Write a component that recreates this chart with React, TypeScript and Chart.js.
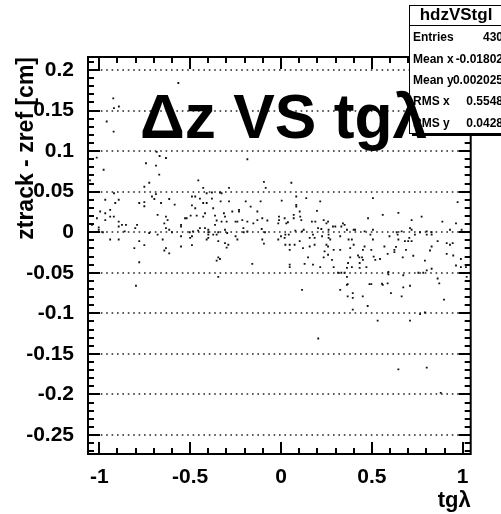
import React, { useEffect, useRef } from 'react';
import { Chart, registerables } from 'chart.js';

Chart.register(...registerables);

// ---- data (tgλ, Δz) ----
const SCATTER_LEFT: [number, number][] = [
  [-0.921, 0.124], [-1.014, 0.092], [-0.668, 0.094], [-0.633, 0.0915], [-0.743, 0.085],
  [-0.688, 0.082], [-0.976, 0.077], [-0.67, 0.071], [-0.725, 0.061], [-0.752, 0.056],
  [-1.051, 0.064], [-0.919, 0.048], [-0.688, 0.047], [-0.71, 0.044], [-0.697, 0.041],
  [-0.967, 0.04], [-0.893, 0.04], [-0.912, 0.036], [-0.78, 0.036], [-0.752, 0.037],
  [-0.752, 0.032], [-0.66, 0.036], [-0.615, 0.041], [-0.585, 0.034], [-0.94, 0.0275],
  [-0.995, 0.0255], [-0.967, 0.0234], [-0.679, 0.0214], [-0.633, 0.0193], [-0.94, 0.0193],
  [-0.92, 0.0193], [-1.013, 0.0172], [-0.967, 0.015], [-0.624, 0.015], [-0.893, 0.013],
  [-0.642, 0.011], [-1.04, 0.009], [-0.875, 0.009], [-0.853, 0.009], [-0.893, 0.007],
  [-0.792, 0.009], [-0.55, 0.009], [-0.55, 0.007], [-1.003, 0.006], [-0.802, 0.005],
  [-0.633, 0.005], [-0.615, 0.003], [-1.003, 0.003], [-0.725, -0.001], [-0.679, -0.003],
  [-0.55, -0.005], [-0.94, -0.009], [-0.893, -0.009], [-0.651, -0.009], [-0.78, -0.011],
  [-0.752, -0.016], [-0.55, -0.0176], [-0.807, -0.0197], [-0.633, -0.0197], [-0.642, -0.0225],
  [-0.615, -0.026], [-0.78, -0.037], [-0.798, -0.066], [-0.565, 0.184], [-0.923, 0.165],
  [-0.919, 0.153], [-0.892, 0.155], [-0.959, 0.1365], [-0.98, 0.0], [-0.86, 0.001],
  [-0.6, 0.0], [-0.684, 0.099],
];

const SCATTER_MID_LEFT: [number, number][] = [
  [-0.185, 0.09], [-0.455, 0.064], [-0.094, 0.062], [-0.084, 0.0546], [-0.428, 0.0546],
  [-0.286, 0.0546], [-0.409, 0.048], [-0.38, 0.049], [-0.336, 0.049], [-0.327, 0.048],
  [-0.49, 0.044], [-0.472, 0.044], [-0.446, 0.0415], [-0.38, 0.0415], [-0.428, 0.036],
  [-0.409, 0.036], [-0.332, 0.038], [-0.286, 0.038], [-0.194, 0.038], [-0.112, 0.038],
  [-0.49, 0.033], [-0.167, 0.0316], [-0.472, 0.0295], [-0.373, 0.0295], [-0.314, 0.0234],
  [-0.268, 0.0255], [-0.231, 0.0255], [-0.231, 0.0276], [-0.13, 0.0255], [-0.418, 0.0234],
  [-0.428, 0.0193], [-0.528, 0.0172], [-0.519, 0.0172], [-0.497, 0.0205], [-0.464, 0.0205],
  [-0.363, 0.0205], [-0.308, 0.0193], [-0.011, 0.0193], [-0.011, 0.015], [-0.103, 0.0172],
  [-0.075, 0.0144], [-0.13, 0.015], [-0.354, 0.0144], [-0.327, 0.013], [-0.299, 0.013],
  [-0.25, 0.013], [-0.24, 0.013], [-0.185, 0.013], [-0.213, 0.015], [-0.152, 0.011],
  [-0.015, 0.011], [-0.363, 0.009], [-0.446, 0.005], [-0.418, 0.005], [-0.4, 0.003],
  [-0.308, 0.003], [-0.207, 0.005], [-0.106, 0.004], [-0.502, 0.0], [-0.484, 0.001],
  [-0.456, 0.002], [-0.4, 0.0], [-0.345, 0.0], [-0.296, -0.001], [-0.205, 0.0],
  [-0.185, 0.001], [-0.088, 0.0], [-0.4, -0.003], [-0.373, -0.003], [-0.354, -0.003],
  [-0.49, -0.005], [-0.5, -0.007], [-0.4, -0.007], [-0.409, -0.009], [-0.25, -0.005],
  [-0.24, -0.009], [-0.103, -0.009], [-0.094, -0.014], [0.0, -0.005], [-0.015, -0.009],
  [-0.345, -0.011], [-0.308, -0.0135], [-0.29, -0.0155], [-0.299, -0.019], [-0.49, -0.016],
  [-0.345, -0.031], [-0.336, -0.033], [-0.354, -0.035], [-0.158, -0.039], [-0.345, -0.055],
];

const SCATTER_MID_RIGHT: [number, number][] = [
  [0.057, 0.061], [0.084, 0.044], [0.139, 0.042], [0.216, 0.038], [0.506, 0.042],
  [0.004, 0.039], [0.084, 0.0337], [0.084, 0.0316], [0.198, 0.0263], [0.07, 0.0214],
  [0.07, 0.0172], [0.103, 0.0255], [0.106, 0.0193], [0.112, 0.015], [0.02, 0.0172],
  [0.029, 0.011], [0.038, 0.0123], [0.17, 0.013], [0.189, 0.013], [0.235, 0.015],
  [0.259, 0.013], [0.25, 0.011], [0.341, 0.011], [0.35, 0.009], [0.332, 0.007],
  [0.286, 0.007], [0.299, 0.007], [0.479, 0.0172], [0.204, 0.005], [0.222, 0.004],
  [0.363, 0.003], [0.4, 0.003], [0.408, 0.003], [0.46, 0.001], [0.506, 0.003],
  [0.125, 0.003], [0.116, 0.001], [0.079, 0.002], [0.262, 0.003], [0.262, -0.003],
  [0.262, -0.007], [0.271, -0.009], [0.024, -0.003], [0.043, -0.003], [0.02, -0.007],
  [0.176, -0.003], [0.185, -0.007], [0.158, -0.007], [0.226, -0.005], [0.372, -0.009],
  [0.39, -0.009], [0.326, -0.005], [0.492, -0.003], [0.506, -0.009], [0.024, -0.0155],
  [0.048, -0.0155], [0.048, -0.0217], [0.075, -0.0155], [0.103, -0.011], [0.121, -0.0197],
  [0.158, -0.0176], [0.185, -0.0155], [0.25, -0.0155], [0.259, -0.0176], [0.4, -0.0155],
  [0.381, -0.0197], [0.46, -0.0176], [0.451, -0.0217], [0.497, -0.0217], [0.24, -0.0237],
  [0.259, -0.0278], [0.29, -0.0217], [0.326, -0.0217], [0.149, -0.031], [0.235, -0.031],
  [0.281, -0.034], [0.381, -0.031], [0.424, -0.0287], [0.431, -0.031], [0.446, -0.031],
  [0.451, -0.034], [0.369, -0.038], [0.433, -0.038], [0.51, -0.03], [0.519, -0.034],
  [0.13, -0.039], [0.176, -0.04], [0.048, -0.04], [0.048, -0.043], [0.216, -0.043],
  [0.29, -0.043], [0.363, -0.044], [0.39, -0.043], [0.433, -0.044], [0.47, -0.043],
  [0.314, -0.05], [0.332, -0.05], [0.35, -0.05], [0.363, -0.055], [0.363, -0.065],
  [0.487, -0.064], [0.497, -0.064], [0.116, -0.071], [0.326, -0.071], [0.367, -0.064],
  [0.367, -0.079], [0.395, -0.075], [0.395, -0.081], [0.45, -0.079], [0.395, -0.0955],
  [0.477, -0.091], [0.532, -0.109], [0.205, -0.131],
];

const SCATTER_RIGHT: [number, number][] = [
  [0.972, 0.037], [0.646, 0.0239], [0.56, 0.0214], [0.774, 0.0193], [0.719, 0.015],
  [0.888, 0.013], [0.963, 0.011], [0.71, 0.005], [0.719, 0.003], [0.637, 0.0],
  [0.664, 0.001], [0.765, 0.0], [0.802, 0.001], [0.829, 0.0], [0.93, 0.003],
  [0.994, 0.003], [0.597, -0.005], [0.642, -0.003], [0.737, -0.003], [0.802, -0.003],
  [0.829, -0.003], [0.646, -0.009], [0.706, -0.007], [0.719, -0.011], [0.7, -0.011],
  [0.682, -0.011], [0.862, -0.011], [0.912, -0.0135], [0.93, -0.0155], [0.945, -0.0135],
  [0.569, -0.0176], [0.633, -0.018], [0.624, -0.0217], [0.624, -0.0246], [0.688, -0.0217],
  [0.829, -0.0176], [0.82, -0.0225], [0.587, -0.0266], [0.545, -0.033], [0.67, -0.031],
  [0.728, -0.029], [0.912, -0.0266], [0.948, -0.0287], [0.99, -0.033], [0.792, -0.035],
  [0.963, -0.041], [0.99, -0.043], [1.018, -0.043], [0.829, -0.045], [0.802, -0.047],
  [0.783, -0.05], [0.756, -0.05], [0.673, -0.053], [0.591, -0.049], [0.591, -0.052],
  [1.022, -0.055], [0.862, -0.057], [0.871, -0.063], [0.556, -0.0635], [0.56, -0.065],
  [0.587, -0.063], [0.673, -0.068], [0.71, -0.066], [0.605, -0.075], [0.664, -0.079],
  [0.897, -0.083], [0.71, -0.109], [0.765, -0.101], [0.792, -0.099], [0.646, -0.169],
  [0.802, -0.167], [0.879, -0.198],
];

const X_TICKS = [-1, -0.5, 0, 0.5, 1];
const Y_TICKS = [-0.25, -0.2, -0.15, -0.1, -0.05, 0, 0.05, 0.1, 0.15, 0.2];
const X_MIN = -1.062;
const X_MAX = 1.044;
const Y_MIN = -0.2734;
const Y_MAX = 0.216;

const TITLE = 'Δz VS tgλ';
const X_TITLE = 'tgλ';
const Y_TITLE = 'ztrack - zref [cm]';
const STATS_NAME = 'hdzVStgl';
const STATS_LABELS = ['Entries', 'Mean x', 'Mean y', 'RMS x', 'RMS y'];
const STATS_VALUES = ['430', '-0.01802', '0.002025', '0.5548', '0.0428'];

const FONT = '"Liberation Sans", Arial, Helvetica, sans-serif';

function minorValues(major: number[], n: number, min: number, max: number): number[] {
  const step = (major[1] - major[0]) / n;
  const out: number[] = [];
  for (let v = major[0]; v >= min - 1e-9; v -= step) out.push(v);
  for (let v = major[0] + step; v <= max + 1e-9; v += step) out.push(v);
  return out;
}

const isMajor = (v: number, major: number[]) => major.some((m) => Math.abs(m - v) < 1e-6);

const rootFrame = {
  id: 'rootFrame',
  beforeDatasetsDraw(chart: any) {
    const { ctx, chartArea: a, scales } = chart;
    const y = scales.y;
    ctx.save();
    ctx.strokeStyle = '#222';
    ctx.lineWidth = 1.6;
    ctx.setLineDash([1.6, 3.8]);
    for (const v of Y_TICKS) {
      const py = Math.round(y.getPixelForValue(v));
      ctx.beginPath();
      ctx.moveTo(a.left + 2, py);
      ctx.lineTo(a.right - 2, py);
      ctx.stroke();
    }
    ctx.restore();
  },
  afterDatasetsDraw(chart: any) {
    const { ctx, chartArea: a, scales } = chart;
    const x = scales.x;
    const y = scales.y;
    ctx.save();
    // frame
    ctx.strokeStyle = '#000';
    ctx.lineWidth = 2;
    ctx.strokeRect(a.left, a.top, a.right - a.left, a.bottom - a.top);
    // ticks (inside the frame, on all four sides)
    ctx.lineWidth = 2;
    ctx.beginPath();
    for (const v of minorValues(Y_TICKS, 5, Y_MIN, Y_MAX)) {
      const py = Math.round(y.getPixelForValue(v));
      const len = isMajor(v, Y_TICKS) ? 12 : 6;
      ctx.moveTo(a.left, py);
      ctx.lineTo(a.left + len, py);
      ctx.moveTo(a.right, py);
      ctx.lineTo(a.right - len, py);
    }
    for (const v of minorValues(X_TICKS, 5, X_MIN, X_MAX)) {
      const px = Math.round(x.getPixelForValue(v));
      const len = isMajor(v, X_TICKS) ? 12 : 6;
      ctx.moveTo(px, a.bottom);
      ctx.lineTo(px, a.bottom - len);
      ctx.moveTo(px, a.top);
      ctx.lineTo(px, a.top + len);
    }
    ctx.stroke();

    // statistics box
    const bx = 409, by = 5, bw = 110, bh = 128;
    ctx.fillStyle = '#000';
    ctx.fillRect(bx + 3, by + 3, bw, bh);
    ctx.fillStyle = '#fff';
    ctx.fillRect(bx, by, bw, bh);
    ctx.lineWidth = 1;
    ctx.strokeStyle = '#000';
    ctx.strokeRect(bx + 0.5, by + 0.5, bw, bh);
    ctx.beginPath();
    ctx.moveTo(bx, 25.5);
    ctx.lineTo(bx + bw, 25.5);
    ctx.stroke();
    ctx.fillStyle = '#000';
    ctx.textBaseline = 'middle';
    ctx.textAlign = 'center';
    ctx.font = `bold 17px ${FONT}`;
    ctx.fillText(STATS_NAME, 456, 15);
    ctx.font = `bold 12px ${FONT}`;
    STATS_LABELS.forEach((lab, i) => {
      const ty = 38 + i * 21.3;
      ctx.textAlign = 'left';
      ctx.fillText(lab, 413, ty);
      ctx.textAlign = 'right';
      ctx.fillText(STATS_VALUES[i], 503, ty);
    });

    // title
    ctx.font = `bold 60px ${FONT}`;
    const w = ctx.measureText(TITLE).width;
    const size = 60 * (287 / w);
    ctx.font = `bold ${size.toFixed(1)}px ${FONT}`;
    ctx.textAlign = 'left';
    ctx.textBaseline = 'alphabetic';
    ctx.fillText(TITLE, 140, 138);
    ctx.restore();
  },
};

const fmt = (v: number) => String(Math.round(v * 100) / 100 || 0);

export default function App() {
  const ref = useRef<HTMLCanvasElement | null>(null);
  useEffect(() => {
    document.body.style.margin = '0';
    const canvas = ref.current;
    if (!canvas) return;
    const points = [...SCATTER_LEFT, ...SCATTER_MID_LEFT, ...SCATTER_MID_RIGHT, ...SCATTER_RIGHT].map(
      ([px, py]) => ({ x: px, y: py })
    );
    const chart = new Chart(canvas, {
      type: 'scatter',
      data: {
        datasets: [
          {
            data: points,
            pointStyle: 'rect',
            pointRadius: 1.3,
            pointHoverRadius: 1.3,
            backgroundColor: '#111',
            borderWidth: 0,
          },
        ],
      },
      options: {
        animation: false,
        responsive: false,
        devicePixelRatio: 1,
        events: [],
        layout: { padding: { top: 57, right: 30.3, left: 0, bottom: 0 } },
        plugins: { legend: { display: false }, tooltip: { enabled: false }, title: { display: false } },
        scales: {
          x: {
            type: 'linear',
            min: X_MIN,
            max: X_MAX,
            grid: { display: false },
            border: { display: false },
            afterBuildTicks: (s: any) => {
              s.ticks = X_TICKS.map((v) => ({ value: v }));
            },
            afterFit: (s: any) => {
              s.height = 60;
            },
            ticks: {
              callback: (v: any) => fmt(Number(v)),
              font: { family: FONT, size: 21, weight: 'bold' },
              color: '#000',
              padding: 3,
              maxRotation: 0,
              autoSkip: false,
            },
            title: {
              display: true,
              text: X_TITLE,
              align: 'end',
              color: '#000',
              font: { family: FONT, size: 22, weight: 'bold' },
              padding: { top: 0, bottom: 0 },
            },
          },
          y: {
            type: 'linear',
            min: Y_MIN,
            max: Y_MAX,
            grid: { display: false },
            border: { display: false },
            afterBuildTicks: (s: any) => {
              s.ticks = Y_TICKS.map((v) => ({ value: v }));
            },
            afterFit: (s: any) => {
              s.width = 88;
            },
            ticks: {
              callback: (v: any) => fmt(Number(v)),
              font: { family: FONT, size: 21, weight: 'bold' },
              color: '#000',
              padding: 6,
              autoSkip: false,
            },
            title: {
              display: true,
              text: Y_TITLE,
              align: 'end',
              color: '#000',
              font: { family: FONT, size: 23, weight: 'bold' },
              padding: { top: 13, bottom: 0 },
            },
          },
        },
      } as any,
      plugins: [rootFrame],
    });
    return () => chart.destroy();
  }, []);
  return (
    <div style={{ position: 'fixed', left: 0, top: 0, width: 501, height: 514, background: '#fff' }}>
      <canvas ref={ref} width={501} height={514} style={{ display: 'block', width: 501, height: 514 }} />
    </div>
  );
}
